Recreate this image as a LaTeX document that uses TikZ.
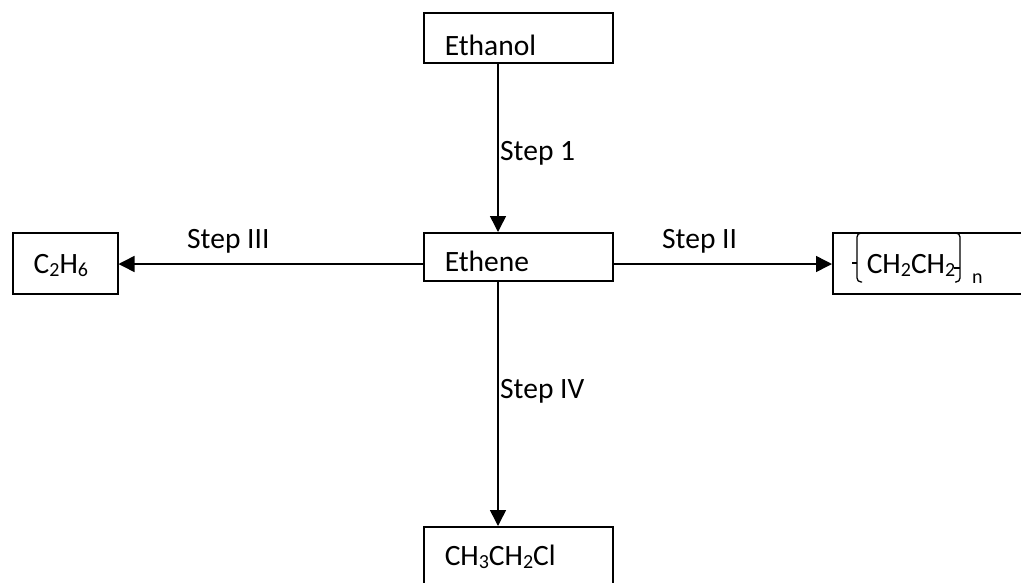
\documentclass[tikz,border=0pt]{standalone}
\usepackage{fontspec}
\setmainfont{Carlito}
\usetikzlibrary{arrows.meta}
\newcommand{\chsub}[1]{\raisebox{-3pt}{\fontsize{20}{20}\selectfont #1}}
\begin{document}
\begin{tikzpicture}[x=1pt,y=-1pt,
  chembox/.style={draw,line width=1.5pt,anchor=north west,inner xsep=21pt,inner ysep=0pt,align=left,font=\fontsize{29.5}{31}\selectfont},
  steplabel/.style={anchor=base west,inner sep=0pt,font=\fontsize{29.5}{31}\selectfont},
  reaction/.style={line width=1.5pt,-{Triangle[length=16pt,width=16pt]}},
  bracket/.style={line width=1.3pt,rounded corners=4pt}]
\useasboundingbox (0,0) rectangle (1021,582);
% boxes
\node[chembox,text width=147pt,text height=43pt,text depth=7pt] (ethanol) at (423,12) {Ethanol};
\node[chembox,text width=147pt,text height=39pt,text depth=9pt] (ethene) at (423,232) {Ethene};
\node[chembox,text width=63pt,text height=41pt,text depth=20pt] (ethane) at (12,232) {C\chsub{2}H\chsub{6}};
\node[chembox,text width=168pt,text height=41pt,text depth=20pt] (polymer) at (832,232) {\hspace*{13pt}CH\chsub{2}CH\chsub{2}\hspace*{17pt}\raisebox{-10pt}{\fontsize{20}{20}\selectfont n}};
\node[chembox,text width=147pt,text height=39pt,text depth=30pt] (chloro) at (423,526) {CH\chsub{3}CH\chsub{2}Cl};
% brackets
\draw[bracket] (862,233) -- (857,233) -- (857,282) -- (862,282);
\draw[line width=1.3pt] (852,263) -- (857,263);
\draw[bracket] (955,233) -- (960,233) -- (960,282) -- (955,282);
\draw[line width=1.3pt] (954,268) -- (960,268);
% arrows
\coordinate (stepx) at (498,0);
\coordinate (midy) at (0,264);
\draw[reaction] (ethanol.south -| stepx) -- (ethene.north -| stepx);
\draw[reaction] (ethene.west |- midy) -- (ethane.east |- midy);
\draw[reaction] (ethene.east |- midy) -- (polymer.west |- midy);
\draw[reaction] (ethene.south -| stepx) -- (chloro.north -| stepx);
% labels
\node[steplabel] (step1) at (500,160) {Step 1};
\node[steplabel] (step2) at (662,248) {Step II};
\node[steplabel] (step3) at (187,248) {Step III};
\node[steplabel] (step4) at (500,398) {Step IV};
\end{tikzpicture}
\end{document}
